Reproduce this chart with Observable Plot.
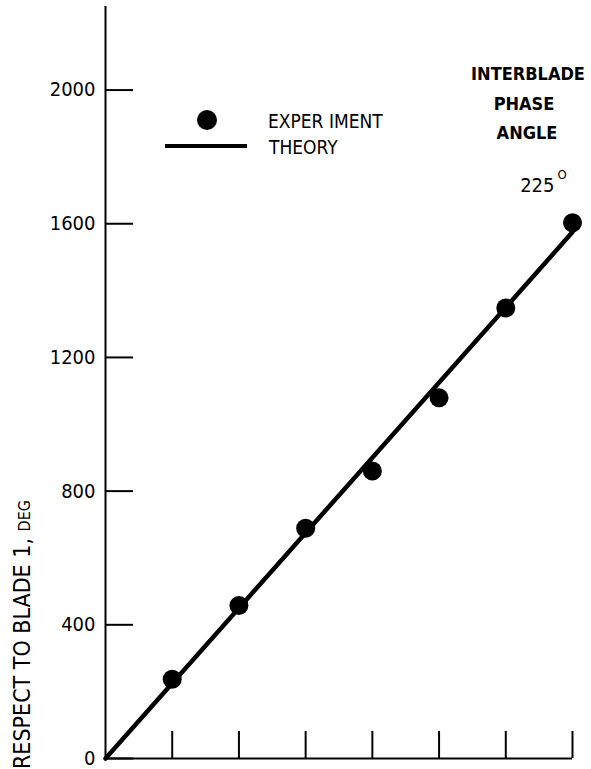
<!DOCTYPE html>
<html><head><meta charset="utf-8">
<script src="https://cdn.jsdelivr.net/npm/d3@7"></script>
<script src="https://cdn.jsdelivr.net/npm/@observablehq/plot@0.6"></script>
<style>
body{margin:0;background:#fff;}
#wrap{position:relative;width:591px;height:769px;overflow:hidden;}
.ov{position:absolute;font-family:"DejaVu Sans Condensed","DejaVu Sans",sans-serif;color:#000;white-space:nowrap;line-height:1;}
#ylab{left:11px;top:769px;transform-origin:0 0;transform:rotate(-90deg);font-size:23px;}
#ylab small{font-size:16px;}
.leg{font-size:19px;}
.hdr{font-size:18px;font-weight:bold;text-align:center;width:130px;left:463px;}
</style></head>
<body>
<div id="wrap"></div>
<script>
// Blade offset from blade 1 (x axis positions)
const blades = [1, 2, 3, 4, 5, 6, 7];
// Experimental phase angle with respect to blade 1, deg
const experiment = [237, 458, 689, 860, 1079, 1348, 1603];
// Theory line end points
const theoryBlades = [0, 7];
const theoryAngles = [0, 1575];
const yTicks = [0, 400, 800, 1200, 1600, 2000];
const xTicks = [1, 2, 3, 4, 5, 6, 7];
const phaseLabel = "225";

const expData = blades.map((b, i) => ({b, v: experiment[i]}));
const theoryData = theoryBlades.map((b, i) => ({b, v: theoryAngles[i]}));
const lastPt = [expData[expData.length - 1]];

const font = '"DejaVu Sans Condensed","DejaVu Sans",sans-serif';

const chart = Plot.plot({
  width: 591, height: 769,
  marginLeft: 105, marginRight: 19, marginTop: 6, marginBottom: 11,
  x: {domain: [0, 7]},
  y: {domain: [0, 2250]},
  style: {fontFamily: font, fontSize: "20px", color: "#000", background: "#fff"},
  marks: [
    Plot.ruleX([0], {strokeWidth: 2}),
    Plot.ruleY([0], {strokeWidth: 2}),
    Plot.axisY({ticks: yTicks, tickSize: -28, tickFormat: () => "", label: null, strokeWidth: 2}),
    Plot.axisY({ticks: yTicks, tickSize: 0, tickPadding: 10, tickFormat: d3.format("d"), label: null, fontSize: 20}),
    Plot.axisX({ticks: xTicks, tickSize: -27, tickFormat: () => "", label: null, strokeWidth: 2}),
    Plot.line(theoryData, {x: "b", y: "v", strokeWidth: 4.5}),
    Plot.dot(expData, {x: "b", y: "v", r: 9.5, fill: "#000", stroke: null}),
    Plot.text(lastPt, {x: "b", y: "v", text: () => phaseLabel, dx: -18, dy: -37, textAnchor: "end", fontSize: 20}),
    Plot.text(lastPt, {x: "b", y: "v", text: () => "O", dx: -15, dy: -48, textAnchor: "start", fontSize: 13})
  ]
});

const wrap = document.getElementById("wrap");
wrap.appendChild(chart);

function add(html, cls, style) {
  const d = document.createElement("div");
  d.className = "ov " + cls;
  d.setAttribute("style", style || "");
  d.innerHTML = html;
  wrap.appendChild(d);
  return d;
}
add("RESPECT TO BLADE 1, <small>DEG</small>", "", "").id = "ylab";
// legend
add("", "", "left:197px;top:110px;width:20px;height:20px;border-radius:50%;background:#000;");
add("", "", "left:165px;top:144px;width:82px;height:4px;background:#000;");
add("EXPER IMENT", "leg", "left:268px;top:112px;");
add("THEORY", "leg", "left:269px;top:138px;");
// header
add("INTERBLADE", "hdr", "top:65px;");
add("PHASE", "hdr", "top:95px;left:459px;");
add("ANGLE", "hdr", "top:124px;left:462px;");
</script>
</body></html>
